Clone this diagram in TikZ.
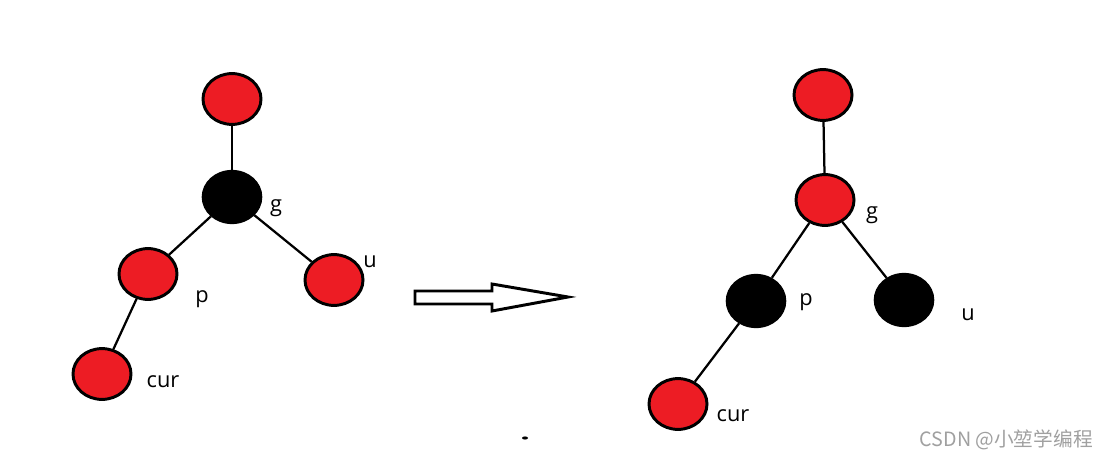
\documentclass[tikz,border=0pt]{standalone}
\usepackage{fontspec}
\setmainfont{Open Sans}
\newfontfamily\cjkfont{Noto Sans CJK SC}
\usetikzlibrary{shapes.geometric}
\definecolor{NodeRed}{HTML}{ED1C24}
\definecolor{InkBlack}{HTML}{000000}
\definecolor{MarkGray}{HTML}{A0A0A0}

\begin{document}
\begin{tikzpicture}[
    x=0.025cm, y=-0.025cm,
    rednode/.style={ellipse, draw=InkBlack, fill=NodeRed, line width=2.1pt, minimum width=1.45cm, minimum height=1.27cm, inner sep=0pt},
    blacknode/.style={ellipse, draw=InkBlack, fill=InkBlack, line width=1pt, minimum width=1.48cm, minimum height=1.32cm, inner sep=0pt},
    treeedge/.style={draw=InkBlack, line width=1.6pt},
    nodelabel/.style={font=\fontsize{15.5}{17}\selectfont, text=InkBlack, inner sep=0pt},
    blockarrow/.style={draw=InkBlack, fill=white, line width=2.1pt, line join=miter},
    watermark/.style={font=\cjkfont\fontsize{14}{16}\selectfont, text=MarkGray, inner sep=0pt}
]

\useasboundingbox[fill=white] (0,0) rectangle (1108,458);

% before
\node[rednode] (rootA) at (232,99) {};
\node[blacknode] (gA) at (232,197) {};
\node[rednode] (pA) at (148,274) {};
\node[rednode] (uA) at (334,280) {};
\node[rednode] (curA) at (102,374) {};

\draw[treeedge] (rootA) -- (gA);
\draw[treeedge] (gA) -- (pA);
\draw[treeedge] (gA) -- (uA);
\draw[treeedge] (pA) -- (curA);

\node[nodelabel] (gLblA) at (276,208) {g};
\node[nodelabel] (pLblA) at (202,299) {p};
\node[nodelabel] (uLblA) at (370,262) {u};
\node[nodelabel] (curLblA) at (163,382) {cur};

% arrow
\draw[blockarrow] (415,291) -- (492,291) -- (492,284) -- (568,297) -- (492,311) -- (492,304) -- (415,304) -- cycle;
\fill[InkBlack] (525,438) ellipse (3 and 1.6);

% after
\node[rednode] (rootB) at (823,95) {};
\node[rednode] (gB) at (825,200) {};
\node[blacknode] (pB) at (756,301) {};
\node[blacknode] (uB) at (904,300) {};
\node[rednode] (curB) at (678,404) {};

\draw[treeedge] (rootB) -- (gB);
\draw[treeedge] (gB) -- (pB);
\draw[treeedge] (gB) -- (uB);
\draw[treeedge] (pB) -- (curB);

\node[nodelabel] (gLblB) at (872,215) {g};
\node[nodelabel] (pLblB) at (806,302) {p};
\node[nodelabel] (uLblB) at (968,315) {u};
\node[nodelabel] (curLblB) at (733,416) {cur};

\node[watermark, anchor=east] (mark) at (1093,440) {CSDN @小堃学编程};

\end{tikzpicture}
\end{document}
